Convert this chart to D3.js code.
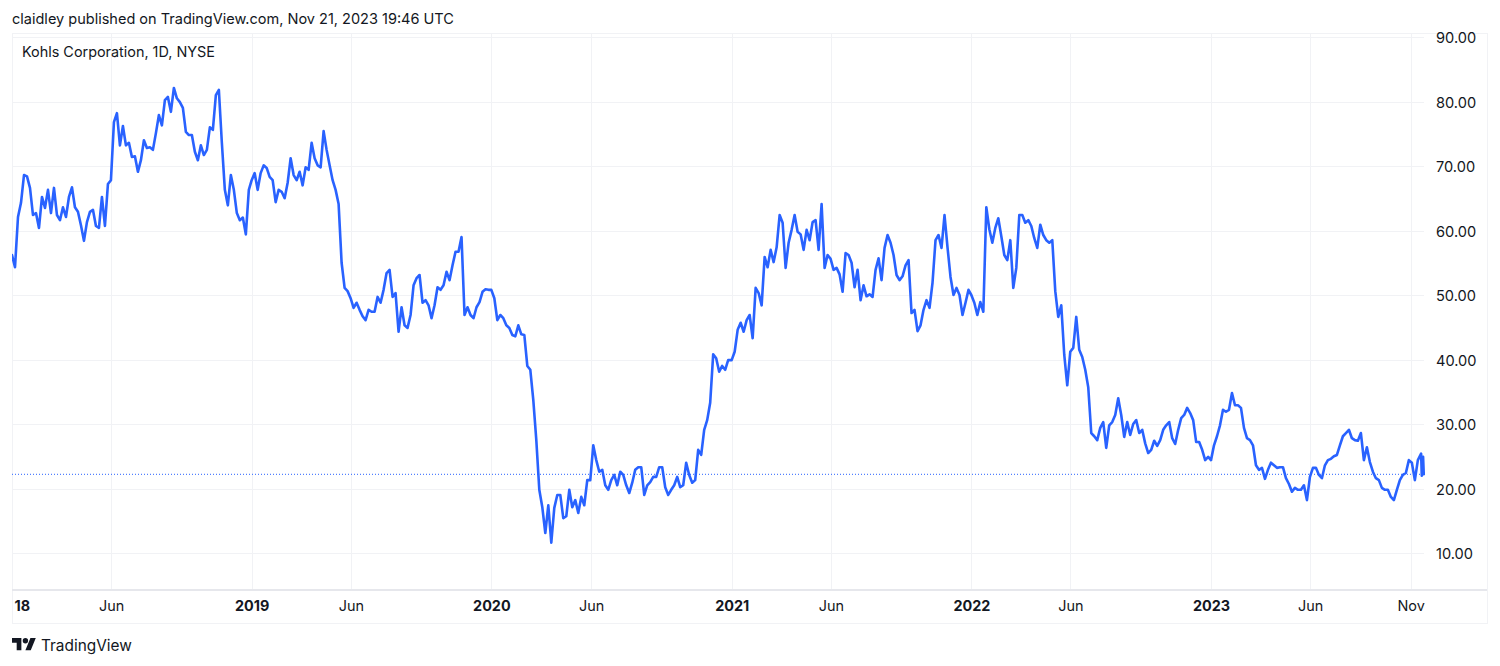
<!DOCTYPE html>
<html>
<head>
<meta charset="utf-8">
<title>Kohls Corporation, 1D, NYSE</title>
<script src="https://cdn.jsdelivr.net/npm/d3@7/dist/d3.min.js"></script>
<style>
    html, body { margin: 0; padding: 0; background: #fff; overflow: hidden; }
    text { font-family: Inter, "Noto Sans", sans-serif; }
    .domain { display: none; }
</style>
</head>
<body>
<div id="chart"></div>
<script>
// closes, 80 samples per calendar year
const close2018 = [56.2,54.3,62.1,64.3,68.6,68.4,66.6,62.4,62.7,60.4,65.2,63.5,66.3,62.7,66.6,62.4,61.6,63.6,62.1,65.2,66.7,63.6,62.9,60.8,58.4,61.3,62.9,63.2,60.7,60.4,65.2,60.7,67.2,67.8,76.8,78.2,73.2,76.2,73.2,73.6,71.4,71.5,69.1,70.9,74.0,72.8,72.9,72.5,75.1,77.9,76.3,80.2,80.7,78.4,82.1,80.5,79.9,79.0,75.3,74.8,74.8,72.2,70.9,73.2,71.7,72.5,76.0,75.6,81.0,81.8,73.6,66.3,63.9,68.6,66.3,62.7,61.6,62.0,59.4,66.3];
const close2019 = [67.8,68.9,66.3,68.9,70.1,69.7,68.3,67.8,64.4,66.3,66.0,65.0,67.4,71.2,68.6,67.8,69.1,67.0,69.8,69.4,73.6,71.2,70.1,69.8,75.4,72.5,70.1,67.8,66.3,64.1,55.0,51.1,50.6,49.5,48.0,48.8,47.7,46.7,46.1,47.7,47.4,47.4,49.7,48.8,50.8,53.4,53.9,49.7,50.3,44.3,48.1,45.3,44.9,46.9,51.5,52.6,53.1,48.8,49.2,48.4,46.4,48.4,51.2,50.8,51.5,53.6,52.3,54.6,56.7,56.7,59.0,46.9,48.1,46.9,46.4,48.1,48.9,50.5,50.9,50.8];
const close2020 = [50.8,49.5,46.1,46.9,46.4,45.3,44.9,43.8,43.6,45.3,43.9,43.8,39.0,38.4,33.7,27.5,19.8,17.1,13.1,17.4,11.6,17.0,19.0,19.0,15.4,15.7,19.8,17.1,18.2,16.2,18.7,17.4,21.3,21.3,26.7,24.4,22.6,22.9,20.5,19.8,21.3,22.1,20.5,22.6,22.1,20.5,19.3,20.9,22.9,23.3,23.3,19.0,20.5,21.0,21.8,21.8,23.3,23.3,20.2,19.0,19.8,20.5,21.8,20.2,20.5,24.0,22.1,20.9,21.3,26.0,25.2,29.1,30.6,33.3,40.8,40.2,38.1,39.0,38.4,39.9];
const close2021 = [39.9,41.2,44.6,45.7,44.3,46.1,46.9,43.3,51.1,50.3,48.4,55.9,54.3,57.0,55.1,57.4,62.4,61.2,54.2,58.1,60.1,62.4,59.8,59.4,57.0,60.1,58.5,61.3,61.6,57.0,64.1,54.2,56.2,55.6,53.9,54.2,53.2,50.5,56.5,56.2,55.0,51.2,53.9,49.2,51.5,49.8,50.1,49.7,53.9,55.7,52.3,57.3,59.3,58.1,56.2,53.1,52.3,52.9,54.6,55.4,47.2,47.7,44.4,45.3,47.7,49.2,48.0,51.9,58.5,59.3,57.3,62.4,57.4,52.8,50.0,51.1,50.0,46.9,48.8,50.8];
const close2022 = [50.0,48.8,46.9,48.9,47.4,63.6,60.2,58.1,60.4,61.9,59.1,56.2,55.4,58.5,51.1,54.2,62.4,62.4,61.2,61.6,60.7,58.8,57.3,60.9,59.3,58.5,58.1,58.5,50.6,46.6,48.4,40.7,36.0,41.2,41.8,46.6,41.5,40.4,38.4,35.7,28.6,28.1,27.5,29.4,30.3,26.3,29.8,30.3,31.4,34.0,31.4,28.0,30.3,28.3,30.0,30.6,28.6,29.1,27.0,25.5,26.0,27.4,26.6,27.5,29.1,29.8,30.3,27.8,26.9,29.1,30.9,31.4,32.5,31.7,30.6,27.2,27.2,26.0,24.4,24.9];
const close2023 = [24.4,26.7,28.1,29.8,32.2,31.9,32.2,34.8,32.9,32.9,32.5,29.4,27.8,27.5,26.7,23.6,22.9,23.2,21.5,22.9,24.0,23.6,23.2,23.3,23.3,21.6,20.7,19.5,20.1,19.8,19.8,20.5,18.2,21.8,23.2,23.2,22.1,21.6,23.6,24.4,24.6,25.0,25.2,26.7,28.1,28.6,29.1,27.8,27.5,27.4,28.6,24.4,26.4,24.1,22.6,21.6,21.3,20.1,19.8,19.8,18.7,18.2,19.8,21.3,22.1,22.4,24.4,24.0,21.3,24.4];
// last few sessions, they bounce inside a couple of pixels
const lastDates = ["2023-11-17", "2023-11-18", "2023-11-20", "2023-11-21"];
const lastCloses = [25.4, 22.0, 24.9, 22.2];

const closesByYear = [[2018, close2018], [2019, close2019], [2020, close2020], [2021, close2021], [2022, close2022], [2023, close2023]];
const lastPrice = 22.2;

const priceTicks = [10, 20, 30, 40, 50, 60, 70, 80, 90];
const timeTicks = ["2018-01-01", "2018-06-01", "2019-01-01", "2019-06-01", "2020-01-01", "2020-06-01", "2021-01-01", "2021-06-01", "2022-01-01", "2022-06-01", "2023-01-01", "2023-06-01", "2023-11-01"];
// the first label shows as "18" in the picture, the pane edge eats the rest
const timeLabels = ["18", "Jun", "2019", "Jun", "2020", "Jun", "2021", "Jun", "2022", "Jun", "2023", "Jun", "Nov"];

const headerText = "claidley published on TradingView.com, Nov 21, 2023 19:46 UTC";
const titleText = "Kohls Corporation, 1D, NYSE";

var width = 1500;
var height = 666;
var plot = {left: 12, right: 1424, top: 33, bottom: 590, frameRight: 1487, frameBottom: 623};
var lineColor = "#2962ff";
var gridColor = "#f1f2f5";
var frameColor = "#e6e7ec";
var textColor = "#131722";

var msPerSample = 365.25 * 86400000 / 80;

var points = [];
closesByYear.forEach(function (entry) {
    entry[1].forEach(function (value, k) {
        points.push({date: new Date(Date.UTC(entry[0], 0, 1) + k * msPerSample), close: value});
    });
});
lastDates.forEach(function (d, i) {
    points.push({date: new Date(d + "T00:00:00Z"), close: lastCloses[i]});
});

const x = d3.scaleUtc()
    .domain([new Date("2018-01-01T00:00:00Z"), new Date("2023-01-01T00:00:00Z")])
    .range([12, 1211]);

const y = d3.scaleLinear()
    .domain([10, 90])
    .range([553, 37]);

const tickDates = timeTicks.map(d => new Date(d + "T00:00:00Z"));

const svg = d3.select("#chart")
    .append("svg")
    .attr("width", width)
    .attr("height", height)
    .style("display", "block");

svg.append("defs").append("clipPath")
    .attr("id", "plot-clip")
    .append("rect")
    .attr("x", plot.left)
    .attr("y", plot.top)
    .attr("width", plot.right - plot.left + 1)
    .attr("height", plot.frameBottom - plot.top);

svg.append("text")
    .attr("x", 12)
    .attr("y", 24)
    .attr("font-size", 14.53)
    .attr("fill", textColor)
    .text(headerText);

// frame
svg.append("rect")
    .attr("x", plot.left + 0.5)
    .attr("y", plot.top + 0.5)
    .attr("width", plot.frameRight - plot.left)
    .attr("height", plot.frameBottom - plot.top)
    .attr("fill", "none")
    .attr("stroke", gridColor);

// grid
svg.append("g")
    .selectAll("line")
    .data(priceTicks)
    .join("line")
    .attr("x1", plot.left)
    .attr("x2", plot.right)
    .attr("y1", d => Math.round(y(d)) + 0.5)
    .attr("y2", d => Math.round(y(d)) + 0.5)
    .attr("stroke", gridColor);

svg.append("g")
    .selectAll("line")
    .data(tickDates.slice(1))
    .join("line")
    .attr("x1", d => Math.round(x(d)) + 0.5)
    .attr("x2", d => Math.round(x(d)) + 0.5)
    .attr("y1", plot.top)
    .attr("y2", plot.bottom)
    .attr("stroke", gridColor);

// bottom edge of the pane
svg.append("line")
    .attr("x1", plot.left)
    .attr("x2", plot.frameRight)
    .attr("y1", plot.bottom)
    .attr("y2", plot.bottom)
    .attr("stroke", frameColor)
    .attr("stroke-width", 2);

// last price
svg.append("line")
    .attr("x1", plot.left)
    .attr("x2", plot.right)
    .attr("y1", y(lastPrice))
    .attr("y2", y(lastPrice))
    .attr("stroke", lineColor)
    .attr("stroke-width", 1)
    .attr("stroke-dasharray", "1,2");

const line = d3.line()
    .x(d => x(d.date))
    .y(d => y(d.close));

svg.append("path")
    .datum(points)
    .attr("d", line)
    .attr("fill", "none")
    .attr("stroke", lineColor)
    .attr("stroke-width", 2.6)
    .attr("stroke-linejoin", "round")
    .attr("stroke-linecap", "round")
    .attr("clip-path", "url(#plot-clip)");

// price axis
const yAxis = svg.append("g")
    .attr("transform", "translate(" + plot.right + ",0)")
    .call(d3.axisRight(y).tickValues(priceTicks).tickFormat(d3.format(".2f")).tickSize(0).tickPadding(12));

yAxis.selectAll("text")
    .attr("font-size", 14.6)
    .attr("fill", textColor)
    .attr("dy", "0.4em")
    .style("font-family", "Inter, 'Noto Sans', sans-serif");

// time axis
const xAxis = svg.append("g")
    .attr("transform", "translate(0," + plot.bottom + ")")
    .call(d3.axisBottom(x)
        .tickValues(tickDates)
        .tickFormat((d, i) => timeLabels[i])
        .tickSize(0)
        .tickPadding(11));

xAxis.selectAll("text")
    .attr("font-size", 14.4)
    .attr("fill", textColor)
    .attr("font-weight", d => d.getUTCMonth() === 0 ? 700 : 400)
    .style("font-family", "Inter, 'Noto Sans', sans-serif");

// first label sits just inside the pane edge
xAxis.selectAll("text")
    .filter((d, i) => i === 0)
    .attr("text-anchor", "start")
    .attr("x", 2);

svg.append("text")
    .attr("x", 22)
    .attr("y", 57)
    .attr("font-size", 14.4)
    .attr("fill", textColor)
    .text(titleText);

// logo
const logo = svg.append("g")
    .attr("transform", "translate(12,635.4) scale(0.67)")
    .attr("fill", textColor);
logo.append("path").attr("d", "M14 22H7V11H0V4h14v18zM28 22h-8l7.5-18h8L28 22z");
logo.append("circle").attr("cx", 20).attr("cy", 8).attr("r", 4);

svg.append("text")
    .attr("x", 41)
    .attr("y", 651)
    .attr("font-size", 15.4)
    .attr("fill", textColor)
    .text("TradingView");
</script>
</body>
</html>
